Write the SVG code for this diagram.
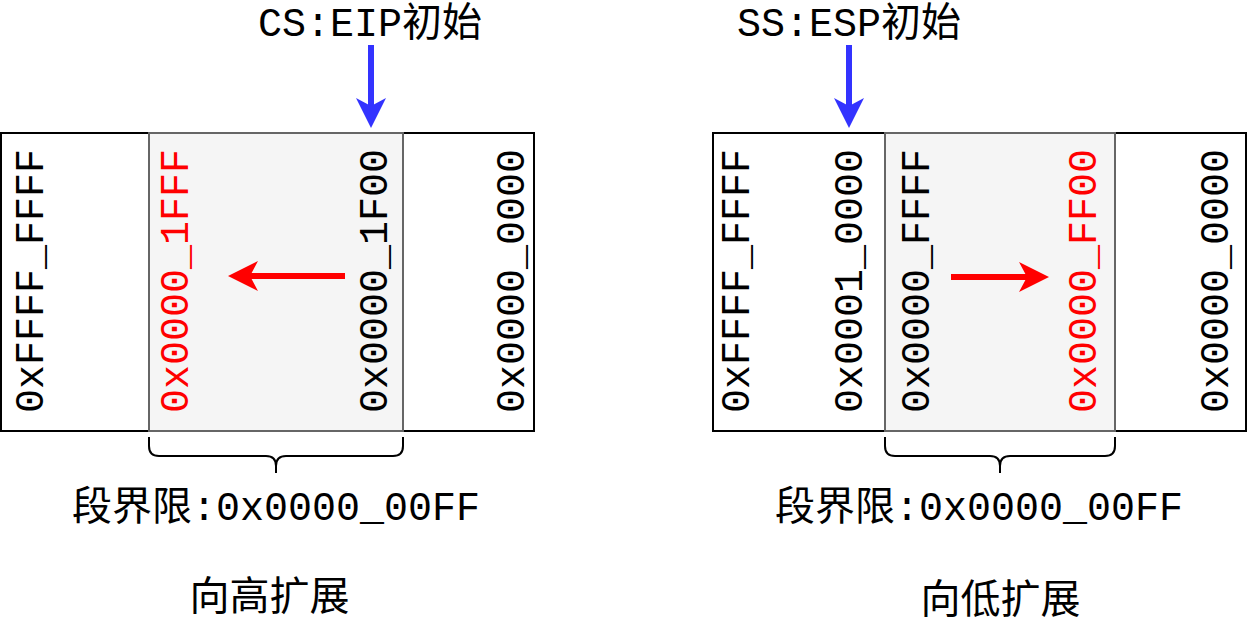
<svg xmlns="http://www.w3.org/2000/svg" width="1248" height="624" viewBox="0 0 1248 624">
<defs>
<style>
.cell{fill:#ffffff;stroke:#000000;stroke-width:2}
.seg{fill:#f5f5f5;stroke:#666666;stroke-width:2}
.t{font-family:"Courier New","Liberation Mono","Noto Sans CJK SC",monospace;font-size:40px;fill:#000000}
.v{text-anchor:middle}
.red{fill:#ff0000}
.cjk{font-family:"Noto Sans CJK SC",sans-serif;font-size:40px;fill:#000000;text-anchor:middle}
.brace{fill:none;stroke:#000000;stroke-width:2}
.ab{stroke:#3333ff;stroke-width:6;fill:none}
.ar{stroke:#ff0000;stroke-width:6;fill:none}
</style>
<marker id="hb" markerUnits="userSpaceOnUse" viewBox="0 0 30 30" refX="8" refY="15" markerWidth="30" markerHeight="30" orient="auto">
<path d="M0,0 L30,15 L0,30 L8,15 Z" fill="#3333ff"/>
</marker>
<marker id="hr" markerUnits="userSpaceOnUse" viewBox="0 0 30 30" refX="8" refY="15" markerWidth="30" markerHeight="30" orient="auto">
<path d="M0,0 L30,15 L0,30 L8,15 Z" fill="#ff0000"/>
</marker>
</defs>
<rect width="1248" height="624" fill="#ffffff"/>

<g id="left-memory">
<rect class="cell" x="1" y="133" width="148" height="298"/>
<rect class="cell" x="403" y="133" width="131" height="298"/>
<rect class="seg" x="149" y="133" width="254" height="298"/>
<text class="t v" transform="translate(42.5,281) rotate(-90)">0xFFFF_FFFF</text>
<text class="t v red" transform="translate(187.5,281) rotate(-90)">0x0000_1FFF</text>
<text class="t v" transform="translate(386.5,281) rotate(-90)">0x0000_1F00</text>
<text class="t v" transform="translate(524,281) rotate(-90)">0x0000_0000</text>
</g>

<g id="right-memory">
<rect class="cell" x="713" y="133" width="172" height="298"/>
<rect class="cell" x="1115" y="133" width="131" height="298"/>
<rect class="seg" x="885" y="133" width="230" height="298"/>
<text class="t v" transform="translate(749,281) rotate(-90)">0xFFFF_FFFF</text>
<text class="t v" transform="translate(861.5,281) rotate(-90)">0x0001_0000</text>
<text class="t v" transform="translate(929,281) rotate(-90)">0x0000_FFFF</text>
<text class="t v red" transform="translate(1096,281) rotate(-90)">0x0000_FF00</text>
<text class="t v" transform="translate(1228,281) rotate(-90)">0x0000_0000</text>
</g>

<g id="left-labels">
<text class="t" x="370" y="36" text-anchor="middle">CS:EIP初始</text>
<text class="t" x="72" y="520">段界限:0x0000_00FF</text>
<text class="cjk" x="269.5" y="610">向高扩展</text>
</g>

<g id="right-labels">
<text class="t" x="849" y="36" text-anchor="middle">SS:ESP初始</text>
<text class="t" x="775" y="520">段界限:0x0000_00FF</text>
<text class="cjk" x="1000.5" y="613">向低扩展</text>
</g>

<g id="connectors">
<line class="ab" x1="371" y1="45" x2="371" y2="106" marker-end="url(#hb)"/>
<line class="ab" x1="849" y1="45" x2="849" y2="106" marker-end="url(#hb)"/>
<line class="ar" x1="345" y1="276" x2="250" y2="276" marker-end="url(#hr)"/>
<line class="ar" x1="951" y1="277" x2="1027" y2="277" marker-end="url(#hr)"/>
<path class="brace" d="M149,437 V446 Q149,456 159,456 H266 Q276,456 276,466 V473 M403,437 V446 Q403,456 393,456 H286 Q276,456 276,466"/>
<path class="brace" d="M885,437 V446 Q885,456 895,456 H990 Q1000,456 1000,466 V473 M1115,437 V446 Q1115,456 1105,456 H1010 Q1000,456 1000,466"/>
</g>
</svg>
